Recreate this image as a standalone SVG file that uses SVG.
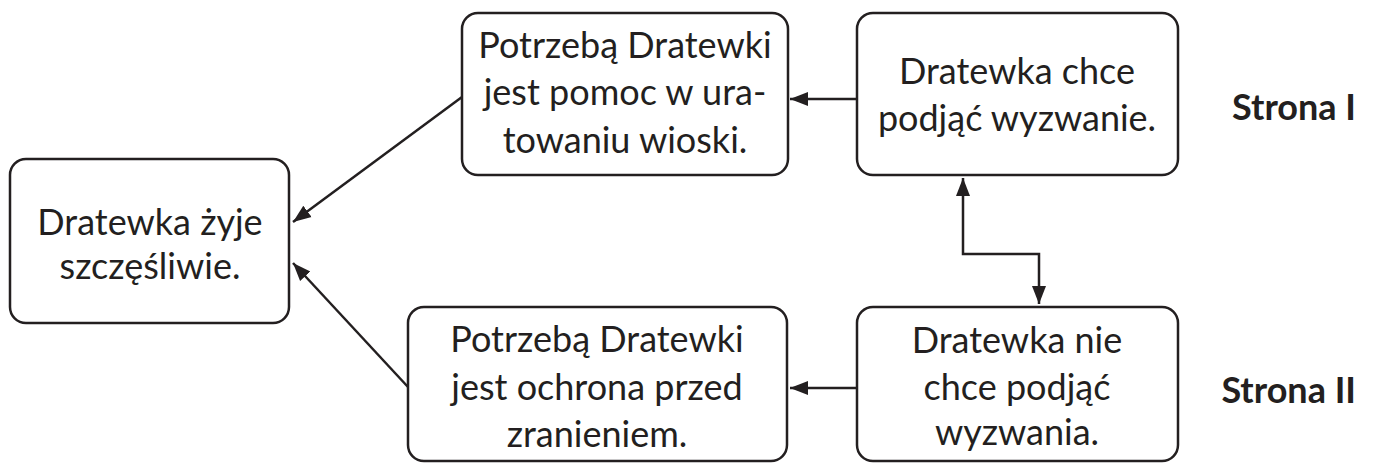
<svg xmlns="http://www.w3.org/2000/svg" width="1373" height="463" viewBox="0 0 1373 463">
<style>
.box{fill:#fff;stroke:#231f20;stroke-width:2.5}
.t{font-family:Lato,"Open Sans",sans-serif;font-size:36px;fill:#231f20;text-anchor:middle}
.lab{font-family:Lato,"Open Sans",sans-serif;font-size:36px;font-weight:bold;fill:#231f20;text-anchor:end}
.c{fill:none;stroke:#231f20;stroke-width:2.5}
</style>
<defs>
<marker id="ah" markerUnits="userSpaceOnUse" markerWidth="20" markerHeight="16" refX="18" refY="7" orient="auto-start-reverse" viewBox="0 0 20 14">
<path d="M0,0 L18,7 L0,14 Z" fill="#231f20"/>
</marker>
</defs>
<g id="connectors">
<line class="c" x1="462" y1="97" x2="293" y2="222" marker-end="url(#ah)"/>
<line class="c" x1="408" y1="387" x2="293" y2="263" marker-end="url(#ah)"/>
<line class="c" x1="857" y1="99" x2="790" y2="99" marker-end="url(#ah)"/>
<line class="c" x1="857" y1="388" x2="790" y2="388" marker-end="url(#ah)"/>
<polyline class="c" points="963,178 963,254 1039,254 1039,304" marker-start="url(#ah)" marker-end="url(#ah)"/>
</g>
<g id="n1">
<rect class="box" x="10" y="159" width="279" height="164" rx="16"/>
<text class="t" x="150" y="235">Dratewka żyje</text>
<text class="t" x="150" y="279">szczęśliwie.</text>
</g>
<g id="n2">
<rect class="box" x="462" y="13" width="326" height="162" rx="16"/>
<text class="t" x="625" y="58">Potrzebą Dratewki</text>
<text class="t" x="625" y="105">jest pomoc w ura-</text>
<text class="t" x="625" y="153">towaniu wioski.</text>
</g>
<g id="n3">
<rect class="box" x="857" y="13" width="321" height="162" rx="16"/>
<text class="t" x="1017" y="84">Dratewka chce</text>
<text class="t" x="1017" y="131">podjąć wyzwanie.</text>
</g>
<g id="n4">
<rect class="box" x="408" y="307" width="379" height="154" rx="16"/>
<text class="t" x="597" y="352">Potrzebą Dratewki</text>
<text class="t" x="597" y="400">jest ochrona przed</text>
<text class="t" x="597" y="447">zranieniem.</text>
</g>
<g id="n5">
<rect class="box" x="857" y="307" width="321" height="154" rx="16"/>
<text class="t" x="1017" y="353">Dratewka nie</text>
<text class="t" x="1017" y="400">chce podjąć</text>
<text class="t" x="1017" y="445">wyzwania.</text>
</g>
<g id="labels">
<text class="lab" x="1356" y="120">Strona I</text>
<text class="lab" x="1356" y="403">Strona II</text>
</g>
</svg>
